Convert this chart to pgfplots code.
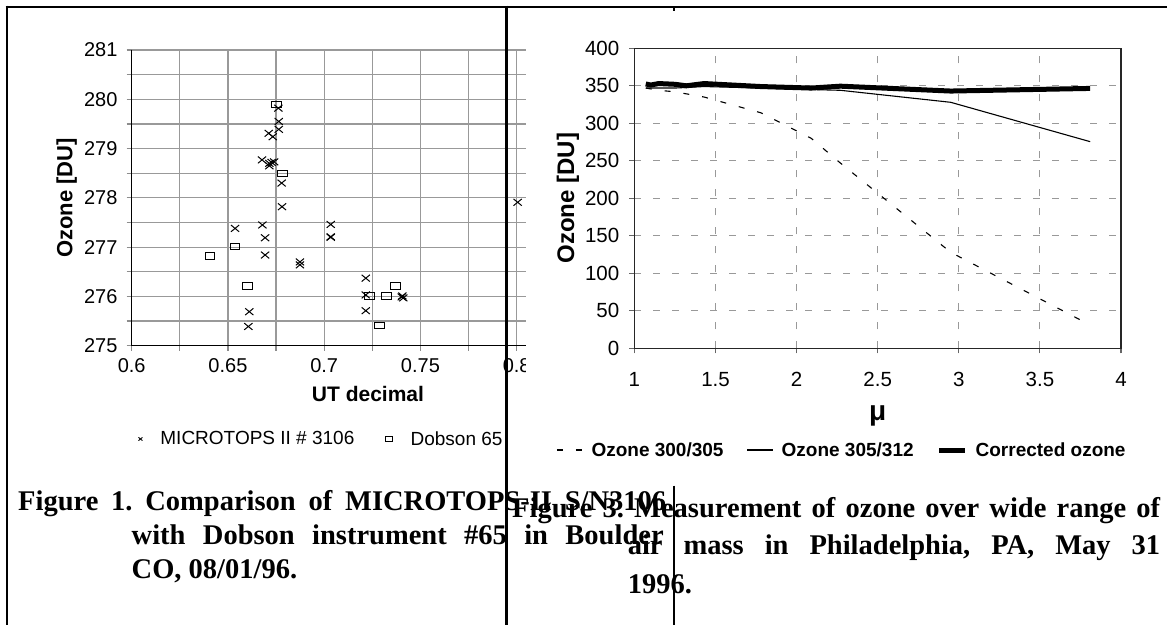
\documentclass[border=0pt]{standalone}
\usepackage{pgfplots}
\pgfplotsset{compat=1.18}
\usepackage{fontspec}
\setmainfont{Liberation Serif}
\setsansfont{Liberation Sans}
\pgfplotsset{/pgf/number format/assume math mode=true}
\begin{document}
\frenchspacing
\begin{tikzpicture}[x=1pt,y=1pt]
\path[use as bounding box] (0pt,0pt) rectangle (1167pt,625pt);

% ---------------- left chart ----------------
\begin{axis}[
  at={(131.7pt,279.3pt)}, anchor=south west,
  scale only axis, width=471.6pt, height=295.7pt,
  xmin=0.6, xmax=0.845, ymin=275, ymax=281,
  xtick={0.6,0.65,0.7,0.75,0.8}, xticklabels={0.6,0.65,0.7,0.75,0.8},
  minor xtick={0.625,0.675,0.725,0.775,0.825},
  ytick={275,276,277,278,279,280,281},
  minor ytick={275.5,276.5,277.5,278.5,279.5,280.5},
  grid=both,
  major grid style={draw=black!40, line width=1.2pt},
  minor grid style={draw=black!40, line width=1.2pt},
  axis x line*=bottom, axis y line*=left,
  axis line style={line width=1pt, black, -},
  tick align=outside, major tick length=5pt, minor tick length=5pt,
  every tick/.style={black!45, line width=1.2pt},
  tick label style={font=\sffamily\fontsize{20}{20}\selectfont, inner sep=0pt},
  xticklabel style={anchor=north, yshift=-8pt},
  yticklabel style={anchor=east, xshift=-9pt},
  xlabel={UT decimal},
  xlabel style={font=\sffamily\bfseries\fontsize{21}{21}\selectfont, at={(axis description cs:0.501,-0.1633)}, anchor=center},
  ylabel={Ozone [DU]},
  ylabel style={font=\sffamily\bfseries\fontsize{22}{22}\selectfont, at={(axis description cs:-0.1378,0.5)}, anchor=center},
  legend style={at={(axis description cs:0.4014,-0.3155)}, anchor=center, draw=none, fill=none,
    font=\sffamily\fontsize{19}{19}\selectfont, inner sep=0pt, nodes={inner sep=1pt},
    /tikz/every odd column/.append style={column sep=17pt},
    /tikz/every even column/.append style={column sep=30pt}},
  legend columns=2,
  legend image code/.code={\draw[#1, mark size=2.8pt, line width=0.9pt] plot coordinates {(0pt,0pt)};},
]
\addplot[only marks, mark=x, mark size=5.8pt, line width=1pt, black, mark options={yscale=0.82}] coordinates {
(0.6762,279.82) (0.6764,279.55) (0.6764,279.39) (0.6712,279.31) (0.6733,279.24)
(0.6677,278.77) (0.6715,278.70) (0.6727,278.72) (0.6715,278.65) (0.6740,278.73)
(0.6779,278.30) (0.6781,277.82) (0.6679,277.45) (0.6537,277.38) (0.6693,277.19)
(0.6693,276.84) (0.6874,276.70) (0.6874,276.64) (0.7034,277.46) (0.7034,277.21)
(0.7034,277.20) (0.6611,275.69) (0.6606,275.39) (0.7216,276.37) (0.7216,276.03)
(0.7216,275.71) (0.7406,276.01) (0.7411,275.97) (0.7403,275.99) (0.8005,277.91)
};
\addlegendentry{MICROTOPS II \# 3106}
\addplot[only marks, mark=square, mark size=3.7pt, line width=1.1pt, black, mark options={xscale=1.3, yscale=0.85}] coordinates {
(0.6753,279.90) (0.6783,278.50) (0.6407,276.82) (0.6537,277.01) (0.6601,276.21)
(0.7235,276.01) (0.7325,276.01) (0.7371,276.21) (0.7287,275.41)
};
\addlegendentry{Dobson 65}
\end{axis}

% the right figure's white background covers the rest of the left chart
\fill[white] (526pt,155pt) rectangle (1167pt,615pt);

% ---------------- right chart ----------------
\begin{axis}[
  at={(634.4pt,276.7pt)}, anchor=south west,
  scale only axis, width=486.6pt, height=300pt,
  xmin=1, xmax=4, ymin=0, ymax=400,
  xtick={1,1.5,2,2.5,3,3.5,4}, ytick={0,50,100,150,200,250,300,350,400},
  xtick pos=lower, ytick pos=left,
  grid=major,
  major grid style={draw=black!40, line width=1.1pt, dash pattern=on 7pt off 12pt},
  axis line style={line width=1.2pt, black!85},
  tick align=outside, major tick length=5pt,
  every tick/.style={black!60, line width=1.1pt},
  tick label style={font=\sffamily\fontsize{20.5}{20.5}\selectfont, inner sep=0pt},
  xticklabel style={anchor=north, yshift=-19pt},
  yticklabel style={anchor=east, xshift=-10pt},
  xlabel={μ},
  xlabel style={font=\sffamily\bfseries\fontsize{28}{28}\selectfont, at={(axis description cs:0.5,-0.2257)}, anchor=center},
  ylabel={Ozone [DU]},
  ylabel style={font=\sffamily\bfseries\fontsize{24}{24}\selectfont, at={(axis description cs:-0.1365,0.5)}, anchor=center},
  legend style={at={(axis description cs:0.4256,-0.339)}, anchor=center, draw=none, fill=none,
    font=\sffamily\bfseries\fontsize{19}{19}\selectfont, inner sep=0pt, nodes={inner sep=1pt},
    /tikz/every odd column/.append style={column sep=7pt},
    /tikz/every even column/.append style={column sep=22pt}},
  legend columns=3,
  legend image code/.code={\draw[#1] (0pt,0pt) -- (26pt,0pt);},
]
\addplot[black, line width=1.1pt, dash pattern=on 6pt off 13pt] coordinates {
(1.07,347) (1.15,344) (1.25,342) (1.43,335) (1.78,314) (2.09,280) (2.27,247) (2.95,128) (3.81,31)
};
\addlegendentry{Ozone 300/305}
\addplot[black, line width=1.1pt] coordinates {
(1.07,347) (1.15,347) (1.25,347) (1.43,349) (1.78,347) (2.09,345) (2.27,344) (2.95,328) (3.81,275.5)
};
\addlegendentry{Ozone 305/312}
\addplot[black, line width=5pt, line join=round] coordinates {
(1.07,352.5) (1.10,351) (1.15,353) (1.25,352) (1.32,350) (1.43,353) (1.78,349) (2.09,347) (2.27,349.5) (2.95,343) (3.81,346.5)
};
\addlegendentry{Corrected ozone}
\end{axis}

% ---------------- frame lines ----------------
\draw[line width=2.6pt, black] (5.7pt,618pt) -- (1167pt,618pt);
\draw[line width=2.6pt, black] (7pt,619.3pt) -- (7pt,0pt);
\draw[line width=3pt, black] (506.7pt,619.3pt) -- (506.7pt,0pt);
\draw[line width=2.4pt, black] (674pt,139.3pt) -- (674pt,0pt);
\draw[line width=2.4pt, black] (674pt,618pt) -- (674pt,614pt);

% ---------------- captions ----------------
\begin{scope}[every node/.style={anchor=base west, inner sep=0pt, font=\rmfamily\bfseries\fontsize{28.5}{28.5}\selectfont}]
\node at (18pt,115pt) {\makebox[648pt][s]{Figure 1. Comparison of MICROTOPS-II S/N3106}};
\node at (131.5pt,81pt) {\makebox[532pt][s]{with Dobson instrument \#65 in Boulder}};
\node at (131.5pt,47pt) {CO, 08/01/96.};
\node at (512pt,108pt) {\makebox[648pt][s]{Figure 3. Measurement of ozone over wide range of}};
\node at (627.6pt,71pt) {\makebox[532.4pt][s]{air mass in Philadelphia, PA, May 31}};
\node at (627.6pt,32pt) {1996.};
\end{scope}
\end{tikzpicture}
\end{document}
